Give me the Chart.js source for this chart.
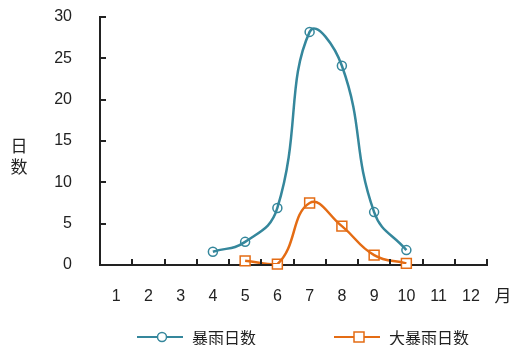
<!DOCTYPE html>
<html>
<head>
<meta charset="utf-8">
<script src="https://cdn.jsdelivr.net/npm/chart.js@4/dist/chart.umd.min.js"></script>
<style>
  html, body { margin: 0; padding: 0; background: #fff; }
  #wrap { width: 511px; height: 345px; position: relative; }
</style>
</head>
<body>
<div id="wrap"><canvas id="rain"></canvas></div>
<script>
// data
const months = ['1', '2', '3', '4', '5', '6', '7', '8', '9', '10', '11', '12'];
const heavyRain = [null, null, null, 1.6, 2.8, 6.9, 28.2, 24.1, 6.4, 1.8, null, null];
const rainstorm = [null, null, null, null, 0.5, 0.1, 7.5, 4.7, 1.2, 0.2, null, null];
const yTicks = [0, 5, 10, 15, 20, 25, 30];
const seriesNames = ['暴雨日数', '大暴雨日数'];

const blue = '#35879c';
const orange = '#e46c14';
const axisColor = '#222';
const fontFamily = '"Liberation Sans", "Noto Sans CJK SC", sans-serif';

// inward tick marks, month labels, axis titles and legend drawn by hand
const decorations = {
    id: 'decorations',
    afterDraw(chart) {
        const ctx = chart.ctx;
        const area = chart.chartArea;
        const x = chart.scales.x;
        const y = chart.scales.y;
        ctx.save();
        ctx.strokeStyle = axisColor;
        ctx.lineWidth = 2;
        // y ticks
        yTicks.forEach(v => {
            const py = Math.round(y.getPixelForValue(v));
            ctx.beginPath();
            ctx.moveTo(area.left, py);
            ctx.lineTo(area.left + 6, py);
            ctx.stroke();
        });
        // x ticks at category boundaries
        const step = (area.right - area.left) / months.length;
        for (let i = 1; i <= months.length; i++) {
            const px = Math.round(area.left + i * step);
            ctx.beginPath();
            ctx.moveTo(px, area.bottom);
            ctx.lineTo(px, area.bottom - 6);
            ctx.stroke();
        }
        // month labels
        ctx.fillStyle = axisColor;
        ctx.font = '16px ' + fontFamily;
        ctx.textAlign = 'center';
        ctx.textBaseline = 'middle';
        months.forEach((m, i) => {
            ctx.fillText(m, x.getPixelForValue(i), area.bottom + 32);
        });
        // axis titles
        ctx.font = '17px "Noto Sans CJK SC", sans-serif';
        ctx.fillText('日', 19, 146);
        ctx.fillText('数', 19, 167);
        ctx.fillText('月', 503, area.bottom + 31);

        // legend
        const items = [
            { name: seriesNames[0], color: blue, style: 'circle', x0: 137 },
            { name: seriesNames[1], color: orange, style: 'rect', x0: 334 }
        ];
        const ly = 337;
        items.forEach(it => {
            ctx.strokeStyle = it.color;
            ctx.lineWidth = 2;
            ctx.beginPath();
            ctx.moveTo(it.x0, ly);
            ctx.lineTo(it.x0 + 46, ly);
            ctx.stroke();
            ctx.fillStyle = '#fff';
            ctx.lineWidth = 1.5;
            ctx.beginPath();
            if (it.style === 'circle') {
                ctx.arc(it.x0 + 25, ly, 4.5, 0, Math.PI * 2);
            } else {
                ctx.rect(it.x0 + 20, ly - 5, 10, 10);
            }
            ctx.fill();
            ctx.stroke();
            ctx.fillStyle = axisColor;
            ctx.font = '16px "Noto Sans CJK SC", sans-serif';
            ctx.textAlign = 'left';
            ctx.fillText(it.name, it.x0 + 55, ly + 1);
        });
        ctx.restore();
    }
};

const ctx = document.getElementById('rain').getContext('2d');
new Chart(ctx, {
    type: 'line',
    data: {
        labels: months,
        datasets: [{
            label: seriesNames[0],
            data: heavyRain,
            borderColor: blue,
            borderWidth: 2.5,
            tension: 0.45,
            pointRadius: 0,
            fill: false
        }, {
            label: seriesNames[1],
            data: rainstorm,
            borderColor: orange,
            borderWidth: 2.5,
            tension: 0.45,
            pointRadius: 0,
            fill: false,
            clip: { left: 5, right: 5, top: 5, bottom: -1 }
        }, {
            label: seriesNames[0] + ' points',
            data: heavyRain,
            showLine: false,
            clip: false,
            pointStyle: 'circle',
            pointRadius: 4.5,
            pointBorderWidth: 1.5,
            pointBorderColor: blue,
            pointBackgroundColor: '#fff'
        }, {
            label: seriesNames[1] + ' points',
            data: rainstorm,
            showLine: false,
            clip: false,
            pointStyle: 'rect',
            pointRadius: 7,
            pointBorderWidth: 1.5,
            pointBorderColor: orange,
            pointBackgroundColor: '#fff'
        }]
    },
    options: {
        responsive: true,
        maintainAspectRatio: false,
        animation: false,
        layout: {
            padding: { left: 0, right: 24, top: 17, bottom: 80 }
        },
        plugins: {
            legend: { display: false },
            tooltip: { enabled: false }
        },
        scales: {
            x: {
                offset: true,
                grid: { display: false, drawTicks: false },
                border: { display: true, color: axisColor, width: 2 },
                ticks: { display: false }
            },
            y: {
                min: 0,
                max: 30,
                grid: { display: false, drawTicks: false },
                border: { display: true, color: axisColor, width: 2 },
                ticks: {
                    stepSize: 5,
                    color: axisColor,
                    padding: 28,
                    font: { family: fontFamily, size: 16 }
                },
                afterFit: function(scale) {
                    scale.width = 100;
                    scale.paddingTop = 0;
                    scale.paddingBottom = 0;
                }
            }
        }
    },
    plugins: [decorations]
});
</script>
</body>
</html>
